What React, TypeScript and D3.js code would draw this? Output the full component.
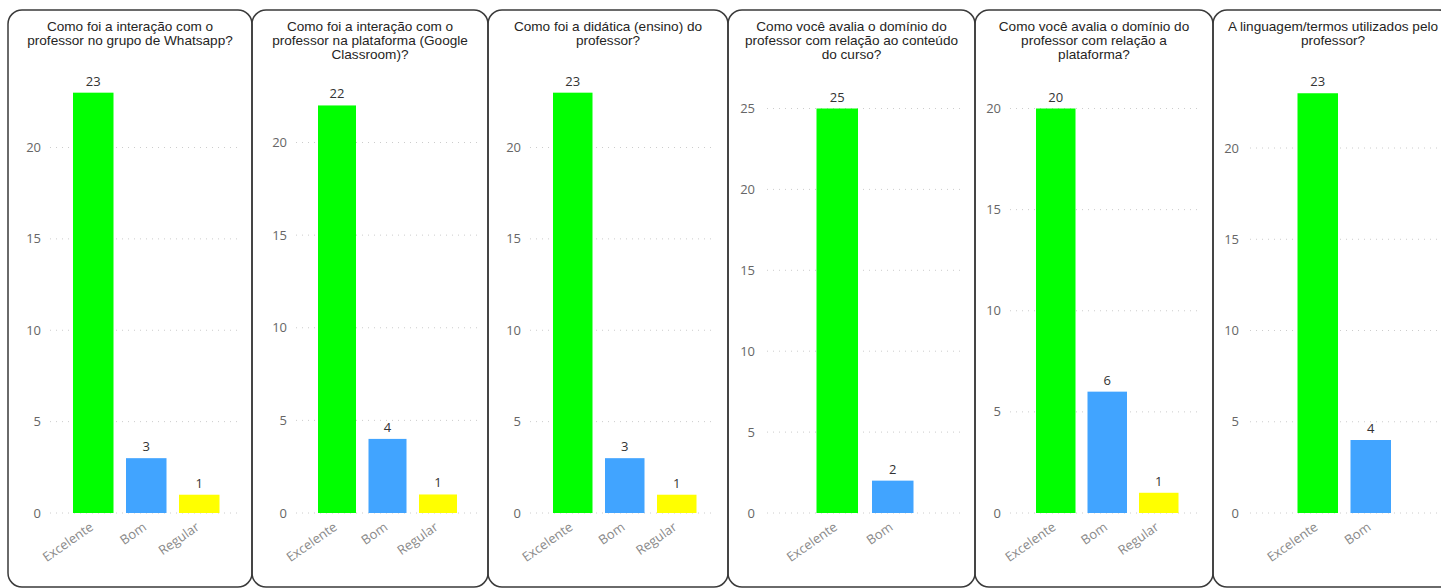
import React from "react";
import * as d3 from "d3";

// ---- data ----
const titles: string[][] = [
  ["Como foi a interação com o", "professor no grupo de Whatsapp?"],
  ["Como foi a interação com o", "professor na plataforma (Google", "Classroom)?"],
  ["Como foi a didática (ensino) do", "professor?"],
  ["Como você avalia o domínio do", "professor com relação ao conteúdo", "do curso?"],
  ["Como você avalia o domínio do", "professor com relação a", "plataforma?"],
  ["A linguagem/termos utilizados pelo", "professor?"],
];
const categories3 = ["Excelente", "Bom", "Regular"];
const categories2 = ["Excelente", "Bom"];
const q1Values = [23, 3, 1];
const q2Values = [22, 4, 1];
const q3Values = [23, 3, 1];
const q4Values = [25, 2];
const q5Values = [20, 6, 1];
const q6Values = [23, 4];
const ticks20 = [0, 5, 10, 15, 20];
const ticks25 = [0, 5, 10, 15, 20, 25];
const colorMap: Record<string, string> = {
  Excelente: "#00ff00",
  Bom: "#41a4ff",
  Regular: "#ffff00",
};

// ---- layout ----
const Y0 = 513;
const panels = [
  { x0: 8, x1: 252, labelX: 41, gx0: 50, gx1: 240, first: 73, step: 53, bw: 40.5, refV: 20, refY: 147.5, cats: categories3, vals: q1Values, ticks: ticks20 },
  { x0: 252, x1: 488, labelX: 287, gx0: 296, gx1: 477, first: 318, step: 50.5, bw: 38, refV: 20, refY: 142.5, cats: categories3, vals: q2Values, ticks: ticks20 },
  { x0: 488, x1: 728, labelX: 521, gx0: 530, gx1: 716, first: 553, step: 52, bw: 39.5, refV: 20, refY: 147.5, cats: categories3, vals: q3Values, ticks: ticks20 },
  { x0: 728, x1: 975, labelX: 755, gx0: 767, gx1: 962, first: 816.5, step: 55.5, bw: 41.5, refV: 25, refY: 108.5, cats: categories2, vals: q4Values, ticks: ticks25 },
  { x0: 975, x1: 1213, labelX: 1001, gx0: 1010, gx1: 1200, first: 1036, step: 51.5, bw: 39.5, refV: 20, refY: 108.5, cats: categories3, vals: q5Values, ticks: ticks20 },
  { x0: 1213, x1: 1453, labelX: 1239, gx0: 1250, gx1: 1441, first: 1297.5, step: 53, bw: 40.5, refV: 20, refY: 148, cats: categories2, vals: q6Values, ticks: ticks20 },
];

const TITLE_FONT = "'Liberation Sans', Arial, sans-serif";
const AXIS_FONT = "'Open Sans', 'Noto Sans', sans-serif";

function Panel({ p, title }: { p: (typeof panels)[number]; title: string[] }) {
  const n = p.cats.length;
  const pad = (p.step - p.bw) / p.step;
  const r0 = p.first - (p.step - p.bw) / 2;
  const x = d3
    .scaleBand<string>()
    .domain(p.cats)
    .range([r0, r0 + n * p.step])
    .paddingInner(pad)
    .paddingOuter(pad / 2);
  const y = d3.scaleLinear().domain([0, p.refV]).range([Y0, p.refY]);
  const cx = (p.x0 + p.x1) / 2;
  return (
    <g>
      <rect
        x={p.x0}
        y={10}
        width={p.x1 - p.x0}
        height={577}
        rx={14}
        ry={14}
        fill="none"
        stroke="#3a3a3a"
        strokeWidth={1.5}
      />
      {title.map((t, i) => (
        <text
          key={i}
          x={cx}
          y={31 + i * 13.8}
          textAnchor="middle"
          fontFamily={TITLE_FONT}
          fontSize={13.6}
          fill="#252423"
        >
          {t}
        </text>
      ))}
      {p.ticks.map((t) => (
        <g key={t}>
          <line
            x1={p.gx0}
            x2={p.gx1}
            y1={y(t)}
            y2={y(t)}
            stroke="#cccccc"
            strokeWidth={1}
            strokeDasharray="1,5"
          />
          <text
            x={p.labelX}
            y={y(t)}
            dy="0.35em"
            textAnchor="end"
            fontFamily={AXIS_FONT}
            fontSize={13}
            fill="#666666"
          >
            {t}
          </text>
        </g>
      ))}
      {p.cats.map((c, i) => {
        const bx = x(c)!;
        const bw = x.bandwidth();
        const v = p.vals[i];
        return (
          <g key={c}>
            <rect x={bx} y={y(v)} width={bw} height={Y0 - y(v)} fill={colorMap[c]} />
            <text
              x={bx + bw / 2}
              y={y(v) - 7}
              textAnchor="middle"
              fontFamily={AXIS_FONT}
              fontSize={13}
              fill="#333333"
            >
              {v}
            </text>
            <text
              transform={`translate(${bx + bw / 2 + 1},${Y0 + 16}) rotate(-35)`}
              textAnchor="end"
              fontFamily={AXIS_FONT}
              fontSize={13}
              fill="#8a8a8a"
            >
              {c}
            </text>
          </g>
        );
      })}
    </g>
  );
}

export default function App() {
  return (
    <svg
      width={1441}
      height={588}
      style={{ position: "absolute", left: 0, top: 0, background: "#ffffff" }}
    >
      <rect x={0} y={0} width={1441} height={588} fill="#ffffff" />
      {panels.map((p, i) => (
        <Panel key={i} p={p} title={titles[i]} />
      ))}
    </svg>
  );
}
